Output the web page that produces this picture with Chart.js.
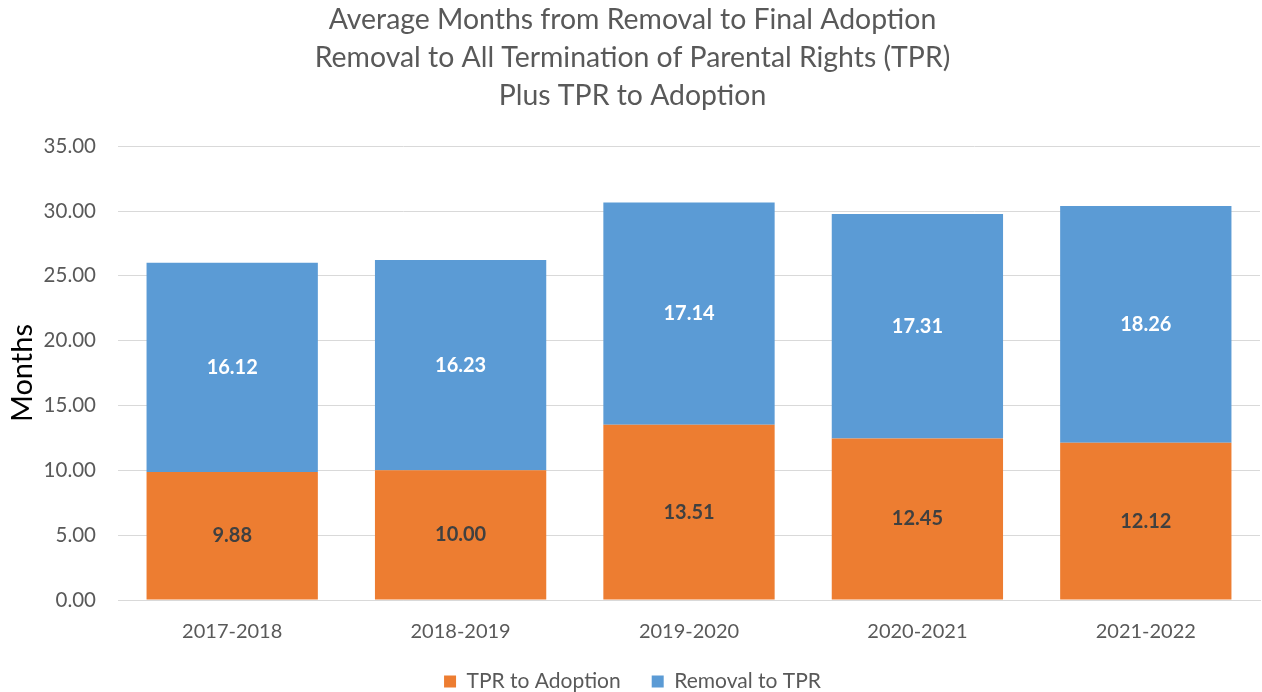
<!DOCTYPE html>
<html>
<head>
<meta charset="utf-8">
<script src="https://cdn.jsdelivr.net/npm/chart.js@4"></script>
<style>
html,body{margin:0;padding:0;background:#fff;}
#wrap{width:1262px;height:692px;}
</style>
</head>
<body>
<div id="wrap"><canvas id="c" width="1262" height="692"></canvas></div>
<script>
const categories = ["2017-2018","2018-2019","2019-2020","2020-2021","2021-2022"];
const tprToAdoption = [9.88, 10.00, 13.51, 12.45, 12.12];
const removalToTpr = [16.12, 16.23, 17.14, 17.31, 18.26];
const seriesNames = ["TPR to Adoption","Removal to TPR"];
const titleLines = ["Average Months from Removal to Final Adoption","Removal to All Termination of Parental Rights (TPR)","Plus TPR to Adoption"];

const FONT = "Lato, 'Open Sans', sans-serif";

const labelPlugin = {
  id: 'barLabels',
  afterDatasetsDraw(chart) {
    const ctx = chart.ctx;
    ctx.save();
    ctx.font = "bold 20px " + FONT;
    ctx.textAlign = 'center';
    ctx.textBaseline = 'middle';
    chart.data.datasets.forEach((ds, di) => {
      const meta = chart.getDatasetMeta(di);
      meta.data.forEach((bar, i) => {
        const y = (bar.y + bar.base) / 2;
        ctx.fillStyle = di === 0 ? '#404040' : '#ffffff';
        ctx.fillText(ds.data[i].toFixed(2), bar.x, y);
      });
    });
    ctx.restore();
  }
};

new Chart(document.getElementById('c'), {
  type: 'bar',
  data: {
    labels: categories,
    datasets: [
      { label: seriesNames[0], data: tprToAdoption, backgroundColor: '#ED7D31', barPercentage: 0.75, categoryPercentage: 1.0 },
      { label: seriesNames[1], data: removalToTpr, backgroundColor: '#5B9BD5', barPercentage: 0.75, categoryPercentage: 1.0 }
    ]
  },
  options: {
    responsive: false,
    animation: false,
    layout: { padding: { left: 5, right: 2, top: 1, bottom: -10 } },
    plugins: {
      title: {
        display: true,
        text: titleLines,
        color: '#595959',
        font: { family: FONT, size: 28.4, weight: 'normal', lineHeight: 1.34 },
        padding: { top: 0, bottom: 31 }
      },
      legend: {
        position: 'bottom',
        labels: {
          color: '#595959',
          font: { family: FONT, size: 21 },
          boxWidth: 12, boxHeight: 12,
          padding: 31
        }
      },
      tooltip: { enabled: false }
    },
    scales: {
      x: {
        stacked: true,
        grid: { display: false },
        border: { display: true, color: '#d9d9d9' },
        ticks: { color: '#595959', font: { family: FONT, size: 20 }, padding: 12 },
        afterFit(scale) { scale.height -= 16; }
      },
      y: {
        stacked: true,
        min: 0, max: 35,
        ticks: {
          stepSize: 5,
          color: '#595959',
          font: { family: FONT, size: 20.5 },
          padding: 22,
          callback: v => v.toFixed(2)
        },
        grid: { color: '#d9d9d9', drawTicks: false },
        border: { display: false },
        title: { display: true, text: 'Months', color: '#000', font: { family: FONT, size: 29 }, padding: 0 },
        afterFit(scale) { scale.width = 113; }
      }
    }
  },
  plugins: [labelPlugin]
});
</script>
</body>
</html>
